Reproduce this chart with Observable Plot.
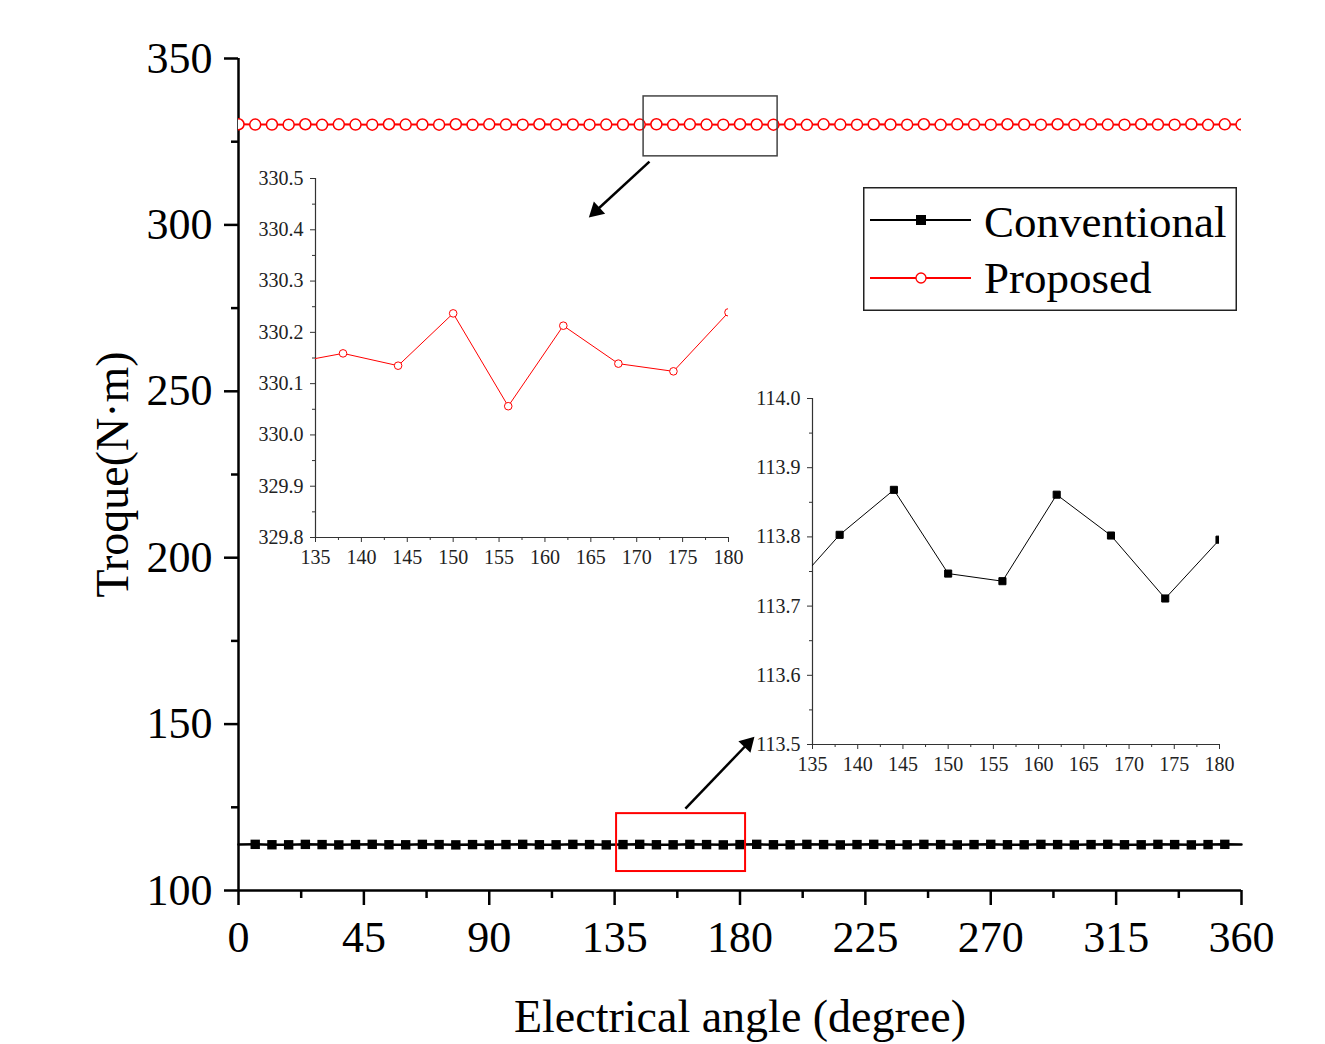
<!DOCTYPE html>
<html><head><meta charset="utf-8">
<script src="https://cdn.jsdelivr.net/npm/d3@7"></script>
<script src="https://cdn.jsdelivr.net/npm/@observablehq/plot@0.6"></script>
<style>
body{margin:0;background:#fff;}
#wrap{position:relative;width:1325px;height:1044px;font-family:"Liberation Serif","Times New Roman",serif;}
#wrap svg{position:absolute;}
</style></head><body><div id="wrap"></div>
<script>
// ---- data ----
const angles = [0,6,12,18,24,30,36,42,48,54,60,66,72,78,84,90,96,102,108,114,120,126,132,138,144,150,156,162,168,174,180,
  186,192,198,204,210,216,222,228,234,240,246,252,258,264,270,276,282,288,294,300,306,312,318,324,330,336,342,348,354,360];
const conventional = [113.80,113.87,113.75,113.74,113.86,113.80,113.71,113.80,113.87,113.75,113.74,113.86,113.80,113.71,113.80,
  113.72,113.80,113.87,113.75,113.74,113.86,113.80,113.715,113.803,113.868,113.747,113.736,113.861,113.802,113.711,113.796,
  113.87,113.75,113.74,113.86,113.80,113.71,113.80,113.87,113.75,113.74,113.86,113.80,113.71,113.80,113.87,113.75,113.74,
  113.86,113.80,113.71,113.80,113.87,113.75,113.74,113.86,113.80,113.71,113.80,113.87,113.80];
const proposed = [330.24,330.14,330.16,330.13,330.24,330.06,330.21,330.14,330.12,330.24,330.14,330.16,330.13,330.24,330.06,
  330.21,330.14,330.12,330.24,330.14,330.16,330.13,330.139,330.159,330.135,330.237,330.056,330.213,330.139,330.124,330.239,
  330.16,330.13,330.24,330.06,330.21,330.14,330.12,330.24,330.16,330.13,330.24,330.06,330.21,330.14,330.12,330.24,330.16,
  330.13,330.24,330.06,330.21,330.14,330.12,330.24,330.16,330.13,330.24,330.06,330.21,330.14];
const seriesNames = ["Conventional","Proposed"];
const xTicks = [0,45,90,135,180,225,270,315,360];
const xMinor = [22.5,67.5,112.5,157.5,202.5,247.5,292.5,337.5];
const yTicks = [100,150,200,250,300,350];
const yMinor = [125,175,225,275,325];
const insetXTicks = [135,140,145,150,155,160,165,170,175,180];
const insetXMinor = [137.5,142.5,147.5,152.5,157.5,162.5,167.5,172.5,177.5];
const propTicks = [329.8,329.9,330.0,330.1,330.2,330.3,330.4,330.5];
const propMinor = [329.85,329.95,330.05,330.15,330.25,330.35,330.45];
const convTicks = [113.5,113.6,113.7,113.8,113.9,114.0];
const convMinor = [113.55,113.65,113.75,113.85,113.95];
const zoomBoxProposed = [{x1:145.4,x2:193.5,y1:320.6,y2:338.6}];
const zoomBoxConventional = [{x1:135.7,x2:182.0,y1:105.7,y2:123.1}];
const pointerArrows = [{x1:147.5,y1:319.0,x2:125.3,y2:301.9},{x1:160.4,y1:124.6,x2:185.6,y2:146.6}];

const conv = angles.map((a,i)=>({angle:a, torque:conventional[i]}));
const prop = angles.map((a,i)=>({angle:a, torque:proposed[i]}));
const font = "Liberation Serif";
const wrap = document.getElementById("wrap");

const baseCfg = {width:1325, height:1044, marginLeft:238, marginRight:84, marginTop:58, marginBottom:154,
  x:{domain:[0,360]}, y:{domain:[100,350]}};

// arrow heads as filled triangles, positioned through the plot's own scales
const probe = Plot.plot({...baseCfg, marks:[Plot.ruleX([0])]});
const sx = probe.scale("x"), sy = probe.scale("y");
const headH = 17;
const shafts = [], heads = [];
pointerArrows.forEach(a => {
  const px1 = sx.apply(a.x1), py1 = sy.apply(a.y1), px2 = sx.apply(a.x2), py2 = sy.apply(a.y2);
  const dx = px2 - px1, dy = py2 - py1, L = Math.hypot(dx, dy), ux = dx / L, uy = dy / L;
  shafts.push({x1:a.x1, y1:a.y1, x2:sx.invert(px2 - ux*headH*0.7), y2:sy.invert(py2 - uy*headH*0.7)});
  heads.push({x:sx.invert(px2 - ux*headH*2/3), y:sy.invert(py2 - uy*headH*2/3), rot:Math.atan2(dx, -dy)*180/Math.PI});
});

// ---- main chart ----
const main = Plot.plot({
  ...baseCfg,
  style:{fontFamily:font, background:"transparent", overflow:"visible", color:"black"},
  marks:[
    Plot.axisY(yTicks,{tickSize:14, tickPadding:12, fontSize:44, strokeWidth:2.5, label:null}),
    Plot.axisY(yMinor,{tickSize:7, text:null, strokeWidth:2.5, label:null}),
    Plot.axisX(xTicks,{tickSize:15, tickPadding:15, fontSize:44, strokeWidth:2.5, label:null}),
    Plot.axisX(xMinor,{tickSize:8, text:null, strokeWidth:2.5, label:null}),
    Plot.ruleX([0],{strokeWidth:2.5}),
    Plot.ruleY([100],{strokeWidth:2.5}),
    Plot.line(conv,{x:"angle", y:"torque", stroke:"black", strokeWidth:2.5}),
    Plot.dot(conv.filter(d=>d.angle>0 && d.angle<360),{x:"angle", y:"torque", symbol:"square", fill:"black", r:5.3}),
    Plot.line(prop,{x:"angle", y:"torque", stroke:"red", strokeWidth:2, clip:true}),
    Plot.dot(prop,{x:"angle", y:"torque", symbol:"circle", stroke:"red", fill:"white", r:5.5, strokeWidth:1.5, clip:true}),
    Plot.rect(zoomBoxProposed,{x1:"x1", x2:"x2", y1:"y1", y2:"y2", fill:"none", stroke:"#444", strokeWidth:1.5}),
    Plot.rect(zoomBoxConventional,{x1:"x1", x2:"x2", y1:"y1", y2:"y2", fill:"none", stroke:"red", strokeWidth:2}),
    Plot.link(shafts,{x1:"x1", y1:"y1", x2:"x2", y2:"y2", stroke:"black", strokeWidth:2.5}),
    Plot.dot(heads,{x:"x", y:"y", symbol:"triangle", rotate:"rot", r:6.2, fill:"black"}),
    Plot.text(["Troque(N·m)"],{frameAnchor:"left", textAnchor:"middle", dx:-125, rotate:-90, fontSize:46, fill:"black"}),
    Plot.text(["Electrical angle (degree)"],{frameAnchor:"bottom", dy:141, fontSize:46, fill:"black"})
  ]
});
main.style.left = "0px"; main.style.top = "0px";
wrap.appendChild(main);

// ---- insets ----
function inset({data, yDomain, yT, yM, left, top, width, height, mL, mT, mR, mB, color, symbol, r, fill}) {
  const sub = data.filter(d => d.angle >= 130 && d.angle <= 180);
  const p = Plot.plot({
    width, height, marginLeft:mL, marginTop:mT, marginRight:mR, marginBottom:mB,
    style:{fontFamily:font, background:"transparent", overflow:"visible", color:"#222"},
    x:{domain:[135,180]}, y:{domain:yDomain},
    marks:[
      Plot.axisY(yT,{tickSize:5, tickPadding:7, fontSize:20, stroke:"#333", label:null, tickFormat:d3.format(".1f")}),
      Plot.axisY(yM,{tickSize:3, text:null, stroke:"#333", label:null}),
      Plot.axisX(insetXTicks,{tickSize:5, tickPadding:7, fontSize:20, stroke:"#333", label:null}),
      Plot.axisX(insetXMinor,{tickSize:3, text:null, stroke:"#333", label:null}),
      Plot.ruleX([135],{stroke:"#333", strokeWidth:1.2}),
      Plot.ruleY([yDomain[0]],{stroke:"#333", strokeWidth:1.2}),
      Plot.line(sub,{x:"angle", y:"torque", stroke:color, strokeWidth:1, clip:true}),
      Plot.dot(sub,{x:"angle", y:"torque", symbol, stroke:color, fill, r, strokeWidth:1, clip:true})
    ]
  });
  p.style.left = left + "px"; p.style.top = top + "px";
  wrap.appendChild(p);
}
inset({data:prop, yDomain:[329.8,330.5], yT:propTicks, yM:propMinor, left:240, top:160, width:508, height:417,
  mL:75, mT:18, mR:20, mB:40, color:"red", symbol:"circle", r:3.8, fill:"white"});
inset({data:conv, yDomain:[113.5,114.0], yT:convTicks, yM:convMinor, left:740, top:380, width:509, height:404,
  mL:72, mT:18, mR:30, mB:40, color:"black", symbol:"square", r:4, fill:"black"});

// ---- legend ----
const ns = "http://www.w3.org/2000/svg";
const lg = document.createElementNS(ns,"svg");
lg.setAttribute("width",374); lg.setAttribute("height",124);
lg.style.left = "863px"; lg.style.top = "187px";
function el(tag, attrs, parent){const e=document.createElementNS(ns,tag);for(const k in attrs)e.setAttribute(k,attrs[k]);(parent||lg).appendChild(e);return e;}
el("rect",{x:0.75,y:0.75,width:372.5,height:122.5,fill:"white",stroke:"#222","stroke-width":1.5});
const rows = [{name:seriesNames[0], color:"black", cy:33, base:50},{name:seriesNames[1], color:"red", cy:91, base:106}];
rows.forEach((rw,i)=>{
  el("line",{x1:7,x2:108,y1:rw.cy,y2:rw.cy,stroke:rw.color,"stroke-width":2});
  if(i===0) el("rect",{x:53,y:rw.cy-5,width:10,height:10,fill:"black"});
  else el("circle",{cx:58,cy:rw.cy,r:5,fill:"white",stroke:"red","stroke-width":1.3});
  const t = el("text",{x:121,y:rw.base,"font-size":45,"font-family":font,fill:"black"});
  t.textContent = rw.name;
});
wrap.appendChild(lg);
</script></body></html>
